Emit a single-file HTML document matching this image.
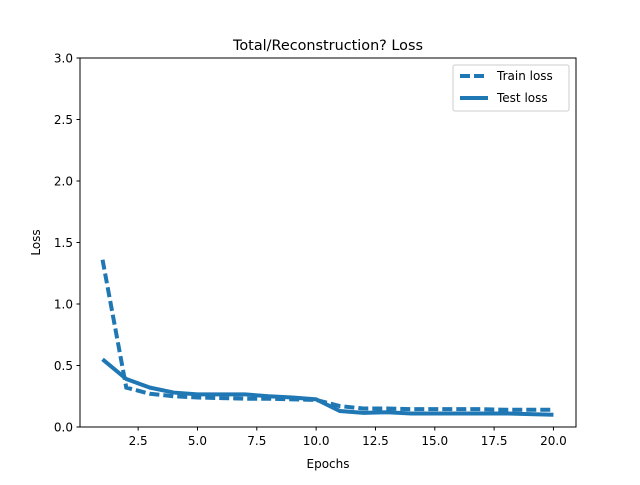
<!DOCTYPE html>
<html><head><meta charset="utf-8"><style>
body{margin:0;background:#fff;}
svg text{font-family:"DejaVu Sans","Liberation Sans",sans-serif;fill:#000;}
</style></head><body>
<svg id="chart" width="640" height="480">
<rect width="640" height="480" fill="#fff"/>
<text x="328" y="50" font-size="14.4" text-anchor="middle">Total/Reconstruction? Loss</text>
<text x="328" y="468" font-size="12" text-anchor="middle">Epochs</text>
<text x="0" y="0" font-size="12" text-anchor="middle" transform="translate(40,242.5) rotate(-90)">Loss</text>
<g id="ticks"></g>
<g id="series"></g>
<rect x="80" y="58" width="496" height="369" fill="none" stroke="#000" stroke-width="1"/>
<g>
<rect x="453" y="65" width="116" height="46" rx="2" fill="#fff" fill-opacity="0.8" stroke="#ccc"/>
<line x1="460" y1="76" x2="488" y2="76" stroke="#1f77b4" stroke-width="4" stroke-dasharray="10,4"/>
<text x="497" y="80" font-size="12">Train loss</text>
<line x1="460" y1="98" x2="488" y2="98" stroke="#1f77b4" stroke-width="4"/>
<text x="497" y="102" font-size="12">Test loss</text>
</g>
</svg>
<script>
const epochs=[1,2,3,4,5,6,7,8,9,10,11,12,13,14,15,16,17,18,19,20];
const trainLoss=[1.36,0.32,0.27,0.25,0.24,0.235,0.23,0.23,0.225,0.22,0.17,0.15,0.15,0.145,0.145,0.145,0.145,0.14,0.14,0.14];
const testLoss=[0.55,0.39,0.32,0.28,0.265,0.265,0.265,0.25,0.24,0.225,0.13,0.115,0.12,0.11,0.11,0.11,0.11,0.11,0.105,0.1];
const xTicks=[2.5,5.0,7.5,10.0,12.5,15.0,17.5,20.0];
const yTicks=[0.0,0.5,1.0,1.5,2.0,2.5,3.0];
const NS="http://www.w3.org/2000/svg";
function xs(v){return 80+(v-0.05)/(20.95-0.05)*496;}
function ys(v){return 427-v/3*369;}
const tg=document.getElementById('ticks');
xTicks.forEach(t=>{
 const l=document.createElementNS(NS,'line');
 l.setAttribute('x1',xs(t));l.setAttribute('x2',xs(t));l.setAttribute('y1',427);l.setAttribute('y2',430.5);l.setAttribute('stroke','#000');
 
 
 tg.appendChild(l);
 const tx=document.createElementNS(NS,'text');
 tx.setAttribute('x',xs(t));tx.setAttribute('y',445);tx.setAttribute('font-size','12');tx.setAttribute('text-anchor','middle');
 tx.textContent=t.toFixed(1);
 
 
 tg.appendChild(tx);
});
yTicks.forEach(t=>{
 const l=document.createElementNS(NS,'line');
 l.setAttribute('x1',76.5);l.setAttribute('x2',80);l.setAttribute('y1',ys(t));l.setAttribute('y2',ys(t));l.setAttribute('stroke','#000');
 
 
 tg.appendChild(l);
 const tx=document.createElementNS(NS,'text');
 tx.setAttribute('x',73);tx.setAttribute('y',ys(t)+4.5);tx.setAttribute('font-size','12');tx.setAttribute('text-anchor','end');
 tx.textContent=t.toFixed(1);
 
 
 tg.appendChild(tx);
});
const sg=document.getElementById('series');
function line(vals,dash,name){
 const p=document.createElementNS(NS,'polyline');
 p.setAttribute('points',epochs.map((e,i)=>xs(e)+','+ys(vals[i])).join(' '));
 p.setAttribute('fill','none');p.setAttribute('stroke','#1f77b4');p.setAttribute('stroke-width','4');
 if(dash)p.setAttribute('stroke-dasharray','10,4');
 
 
 sg.appendChild(p);
}
line(trainLoss,true,'train-loss-line');
line(testLoss,false,'test-loss-line');
</script>
</body></html>
